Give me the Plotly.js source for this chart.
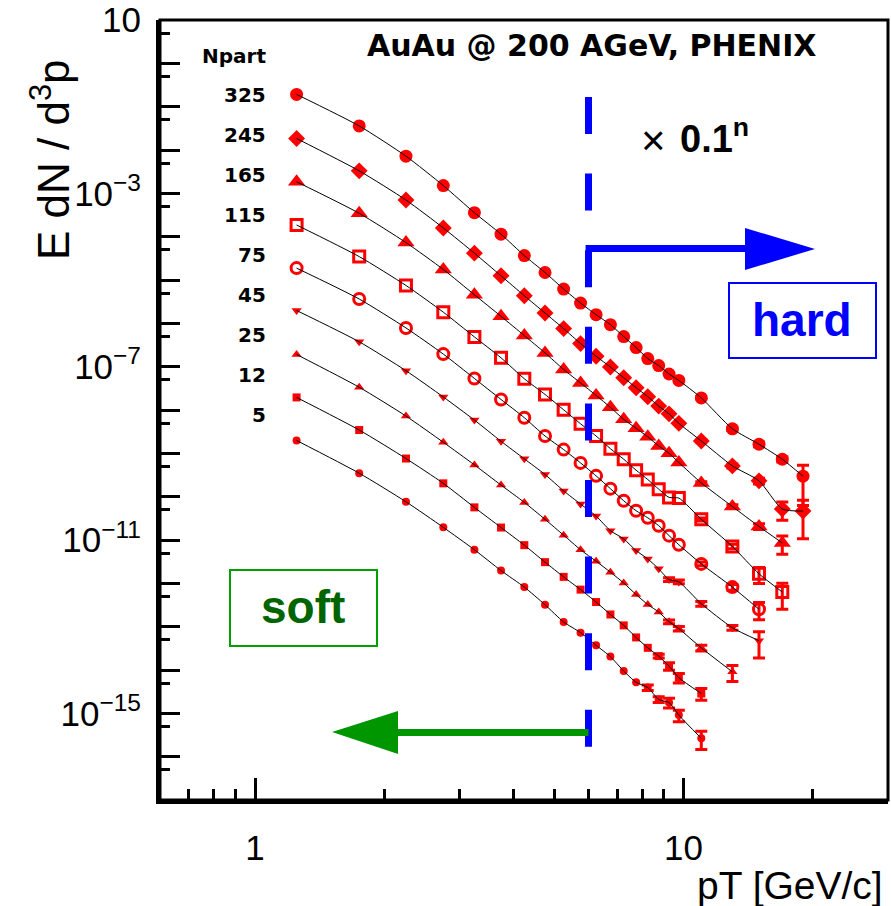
<!DOCTYPE html>
<html><head><meta charset="utf-8">
<script src="https://cdn.plot.ly/plotly-3.0.1.min.js"></script>
<style>html,body{margin:0;padding:0;background:#fff;} #chart{width:891px;height:906px;}</style>
</head><body><div id="chart"></div>
<script>
// ---------------- data ----------------
const pT = [1.25,1.75,2.25,2.75,3.25,3.75,4.25,4.75,5.25,5.75,6.25,6.75,7.25,7.75,8.25,8.75,9.25,9.75,11,13,15,17,19];
const npartLabels = ['325','245','165','115','75','45','25','12','5'];

const y325 = [1.92e-1,3.59e-2,7.21e-3,1.51e-3,3.57e-4,1.14e-4,3.66e-5,1.49e-5,6.18e-6,2.94e-6,1.58e-6,9.33e-7,4.94e-7,2.76e-7,1.54e-7,1.06e-7,6.78e-8,4.81e-8,1.90e-8,3.68e-9,1.62e-9,7.31e-10,2.97e-10];
const y245 = [1.84e-2,3.30e-3,7.00e-4,1.59e-4,4.16e-5,1.25e-5,4.34e-6,1.73e-6,7.55e-7,3.41e-7,1.74e-7,9.82e-8,5.55e-8,3.27e-8,2.03e-8,1.23e-8,8.15e-9,4.92e-9,1.93e-9,5.13e-10,2.32e-10,5.18e-11,4.66e-11];
const y165 = [1.85e-3,3.46e-4,7.30e-5,1.75e-5,4.57e-6,1.45e-6,5.21e-7,2.08e-7,8.61e-8,4.21e-8,2.17e-8,1.15e-8,6.08e-9,3.78e-9,2.41e-9,1.48e-9,1.00e-9,6.14e-10,2.08e-10,5.92e-11,2.05e-11,8.55e-12];
const y115 = [1.86e-4,3.47e-5,7.48e-6,1.81e-6,4.86e-7,1.60e-7,5.26e-8,2.29e-8,1.01e-8,4.80e-9,2.51e-9,1.28e-9,7.31e-10,4.08e-10,2.49e-10,1.49e-10,9.62e-11,9.27e-11,3.00e-11,7.10e-12,1.66e-12,6.28e-13];
const y75  = [1.88e-5,3.64e-6,7.83e-7,1.95e-7,5.35e-8,1.75e-8,6.65e-9,2.51e-9,1.22e-9,6.01e-10,3.02e-10,1.53e-10,8.04e-11,4.73e-11,3.25e-11,2.14e-11,1.26e-11,7.77e-12,2.81e-12,8.18e-13,2.52e-13];
const y45  = [1.98e-6,3.75e-7,8.07e-8,2.00e-8,5.86e-9,1.90e-9,7.46e-10,3.25e-10,1.36e-10,6.75e-11,3.57e-11,1.64e-11,1.06e-11,5.69e-12,3.66e-12,2.16e-12,1.22e-12,1.08e-12,3.38e-13,9.46e-14,4.75e-14];
const y25  = [1.91e-7,3.35e-8,7.24e-9,1.80e-9,5.41e-10,1.85e-10,7.38e-11,3.00e-11,1.29e-11,5.96e-12,3.24e-12,1.81e-12,1.02e-12,5.50e-13,3.24e-13,2.18e-13,1.30e-13,9.00e-14,3.25e-14,9.06e-15];
const y12  = [1.95e-8,3.45e-9,7.59e-10,2.03e-10,5.66e-11,1.94e-11,7.60e-12,3.08e-12,1.41e-12,7.16e-13,3.70e-13,1.91e-13,1.07e-13,5.64e-14,3.25e-14,2.09e-14,1.23e-14,6.64e-15,2.87e-15];
const y5   = [1.98e-9,3.48e-10,7.62e-11,1.96e-11,5.96e-12,1.97e-12,8.18e-13,3.21e-13,1.28e-13,7.28e-14,3.71e-14,2.04e-14,9.46e-15,5.20e-15,3.94e-15,2.09e-15,1.78e-15,9.10e-16,2.65e-16];

// relative errors in percent (0 = not visible)
const e325 = [0,0,0,0,0,0,0,0,0,0,0,0,0,0,0,0,0,0,6,8,12,14,79];
const e245 = [0,0,0,0,0,0,0,0,0,0,0,0,0,0,0,0,0,0,6,10,15,45,77];
const e165 = [0,0,0,0,0,0,0,0,0,0,0,0,0,0,0,0,0,0,6,10,15,45];
const e115 = [0,0,0,0,0,0,0,0,0,0,0,0,0,0,0,0,0,0,8,12,40,60];
const e75  = [0,0,0,0,0,0,0,0,0,0,0,0,0,0,0,0,0,0,10,15,43];
const e45  = [0,0,0,0,0,0,0,0,0,0,0,0,0,0,0,0,10,10,12,13,60];
const e25  = [0,0,0,0,0,0,0,0,0,0,0,0,0,0,0,0,10,12,15,40];
const e12  = [0,0,0,0,0,0,0,0,0,0,0,0,0,0,0,10,20,25,30];
const e5   = [0,0,0,0,0,0,0,0,0,0,0,0,0,0,15,15,25,30,45];

const pTcut = 6; // soft / hard boundary

// axis ticks
const yLabelExps = [1,-3,-7,-11,-15];
const xMajor = [1,10];
const xMinor = [0.7,0.8,0.9,2,3,4,5,6,7,8,9,20];

// ---------------- styling ----------------
const seriesY = [y325,y245,y165,y115,y75,y45,y25,y12,y5];
const seriesE = [e325,e245,e165,e115,e75,e45,e25,e12,e5];
const markerStyles = [
  {symbol:'circle', size:13},
  {symbol:'diamond', size:13},
  {symbol:'triangle-up', size:15},
  {symbol:'square-open', size:11, lw:3},
  {symbol:'circle-open', size:11, lw:3},
  {symbol:'triangle-down', size:9},
  {symbol:'triangle-up', size:9},
  {symbol:'square', size:8},
  {symbol:'circle', size:8}
];
const RED = '#ff0000';

const traces = [];
seriesY.forEach((ys,i)=>{
  const xs = pT.slice(0, ys.length);
  const err = ys.map((v,k)=> seriesE[i][k] > 0 ? v*seriesE[i][k]/100 : NaN);
  const ms = markerStyles[i];
  traces.push({
    type:'scatter', mode:'markers', x:xs, y:ys, name:'Npart '+npartLabels[i],
    marker:{symbol:ms.symbol, size:ms.size, color:RED, line:{width:ms.lw||0, color:RED}},
    error_y:{type:'data', array:err, visible:true, color:RED, thickness:3, width:6},
    hoverinfo:'skip'
  });
});
seriesY.forEach((ys,i)=>{
  const xs = pT.slice(0, ys.length);
  traces.push({
    type:'scatter', mode:'lines', x:xs, y:ys, name:'fit '+npartLabels[i],
    line:{color:'#000', width:1, shape:'spline', smoothing:0.6}, hoverinfo:'skip'
  });
});

// axis ranges and helpers for decorations (pixel -> paper)
const xRange = [Math.log10(0.6), Math.log10(30)];
const yRange = [-17, 1];
const L=160, R=888, T=20, B=800;
const PX = p => (p-L)/(R-L);
const PY = p => (B-p)/(B-T);
const xCut = (Math.log10(pTcut)-xRange[0])/(xRange[1]-xRange[0]);

// labelled decades on main axis, unlabelled decades and 5x10^k ticks on overlay axes
const yTickVals=[], yTickText=[], yDecadeOther=[], yHalf=[];
for(let k=yRange[0]; k<=yRange[1]; k++){
  if(yLabelExps.includes(k)){
    yTickVals.push(Math.pow(10,k));
    yTickText.push(k===1 ? '10' : '10<sup>\u2212'+Math.abs(k)+'</sup>');
  } else yDecadeOther.push(Math.pow(10,k));
  if(k<yRange[1]) yHalf.push(5*Math.pow(10,k));
}
// invisible anchor traces for the overlay axes
traces.push({type:'scatter', mode:'markers', x:[1], y:[1], xaxis:'x2', yaxis:'y2', marker:{opacity:0, size:1}, hoverinfo:'skip', showlegend:false});
traces.push({type:'scatter', mode:'markers', x:[1], y:[1], xaxis:'x', yaxis:'y3', marker:{opacity:0, size:1}, hoverinfo:'skip', showlegend:false});

const SANS = 'Liberation Sans, Arial, sans-serif';
const DV = 'DejaVu Sans, sans-serif';
const tickFont = {family:SANS, size:35, color:'#000'};
const ann = (px, py, text, font, extra) => Object.assign({xref:'paper', yref:'paper', x:PX(px), y:PY(py),
  xanchor:'center', yanchor:'middle', showarrow:false, text, font}, extra||{});

const annotations = [
  ann(818, 45, 'AuAu @ 200 AGeV, PHENIX', {family:DV, size:30, weight:'bold', color:'#000'}, {xanchor:'right'}),
  ann(200, 56, 'Npart', {family:DV, size:20, weight:'bold', color:'#000'}, {xanchor:'left'}),
  ann(653, 140, '\u00d7', {family:SANS, size:42, color:'#000'}),
  ann(678, 136, '0.1<sup>n</sup>', {family:SANS, size:38, weight:'bold', color:'#000'}, {xanchor:'left'}),
  ann(802, 320, 'hard', {family:SANS, size:46, weight:'bold', color:'#0000ff'}),
  ann(303, 607, 'soft', {family:SANS, size:46, weight:'bold', color:'#006400'}),
  ann(885, 885, 'pT [GeV/c]', {family:SANS, size:39, color:'#000'}, {xanchor:'right'}),
  ann(50, 160, 'E dN / d<sup>3</sup>p', {family:SANS, size:44, color:'#000'}, {textangle:-90})
];
const labelRowsPx = [95,135,175,215,255,295,335,375,415];
npartLabels.forEach((t,i)=>{
  annotations.push(ann(268, labelRowsPx[i], t, {family:DV, size:20, weight:'bold', color:'#000'}, {xanchor:'right'}));
});

const BLUE='#0000ff', GREEN='#009600';
const shapes = [
  {type:'rect',xref:'paper',yref:'paper',x0:0,x1:1,y0:0,y1:1,line:{color:'#000',width:3},layer:'above'},
  {type:'line',xref:'paper',yref:'paper',x0:xCut,x1:xCut,y0:PY(97),y1:PY(747),line:{color:BLUE,width:7,dash:'37px,39.6px'}},
  {type:'rect',xref:'paper',yref:'paper',x0:xCut-0.004,x1:PX(750),y0:PY(252),y1:PY(245),fillcolor:BLUE,line:{width:0}},
  {type:'path',xref:'paper',yref:'paper',path:`M ${PX(745)} ${PY(228)} L ${PX(815)} ${PY(249)} L ${PX(745)} ${PY(270)} Z`,fillcolor:BLUE,line:{width:0}},
  {type:'rect',xref:'paper',yref:'paper',x0:PX(396),x1:xCut,y0:PY(736),y1:PY(729),fillcolor:GREEN,line:{width:0}},
  {type:'path',xref:'paper',yref:'paper',path:`M ${PX(398)} ${PY(711)} L ${PX(332)} ${PY(732)} L ${PX(398)} ${PY(754)} Z`,fillcolor:GREEN,line:{width:0}},
  {type:'rect',xref:'paper',yref:'paper',x0:PX(729),x1:PX(876),y0:PY(358),y1:PY(283),line:{color:BLUE,width:2}},
  {type:'rect',xref:'paper',yref:'paper',x0:PX(230),x1:PX(377),y0:PY(646),y1:PY(570),line:{color:'#00a000',width:2}}
];

const overlayY = (vals, len) => ({type:'log', range:yRange, overlaying:'y', side:'left', anchor:'x', showgrid:false, zeroline:false,
  showline:false, ticks:'inside', ticklen:len, tickwidth:3, tickcolor:'#000', tickmode:'array', tickvals:vals,
  showticklabels:false, automargin:false, fixedrange:true});

const layout = {
  width:891, height:906, margin:{l:L, r:891-R, t:T, b:906-B, pad:0},
  paper_bgcolor:'#fff', plot_bgcolor:'#fff', showlegend:false,
  font:{family:SANS, color:'#000'},
  xaxis:{type:'log', range:xRange, showgrid:false, zeroline:false, showline:true, linecolor:'#000', linewidth:4,
    ticks:'inside', ticklen:22, tickwidth:3, tickcolor:'#000', tickmode:'array', tickvals:xMajor, ticktext:xMajor.map(String),
    tickfont:tickFont, ticklabelstandoff:14, automargin:false, fixedrange:true},
  xaxis2:{type:'log', range:xRange, overlaying:'x', side:'bottom', anchor:'y', showgrid:false, zeroline:false, showline:false,
    ticks:'inside', ticklen:11, tickwidth:3, tickcolor:'#000', tickmode:'array', tickvals:xMinor, showticklabels:false,
    automargin:false, fixedrange:true},
  yaxis:{type:'log', range:yRange, showgrid:false, zeroline:false, showline:true, linecolor:'#000', linewidth:4,
    ticks:'inside', ticklen:20, tickwidth:3, tickcolor:'#000', tickmode:'array', tickvals:yTickVals, ticktext:yTickText,
    tickfont:tickFont, ticklabelstandoff:8, automargin:false, fixedrange:true},
  yaxis2: overlayY(yHalf, 10),
  yaxis3: overlayY(yDecadeOther, 20),
  annotations, shapes
};

Plotly.newPlot('chart', traces, layout, {displayModeBar:false, staticPlot:true});
</script></body></html>
